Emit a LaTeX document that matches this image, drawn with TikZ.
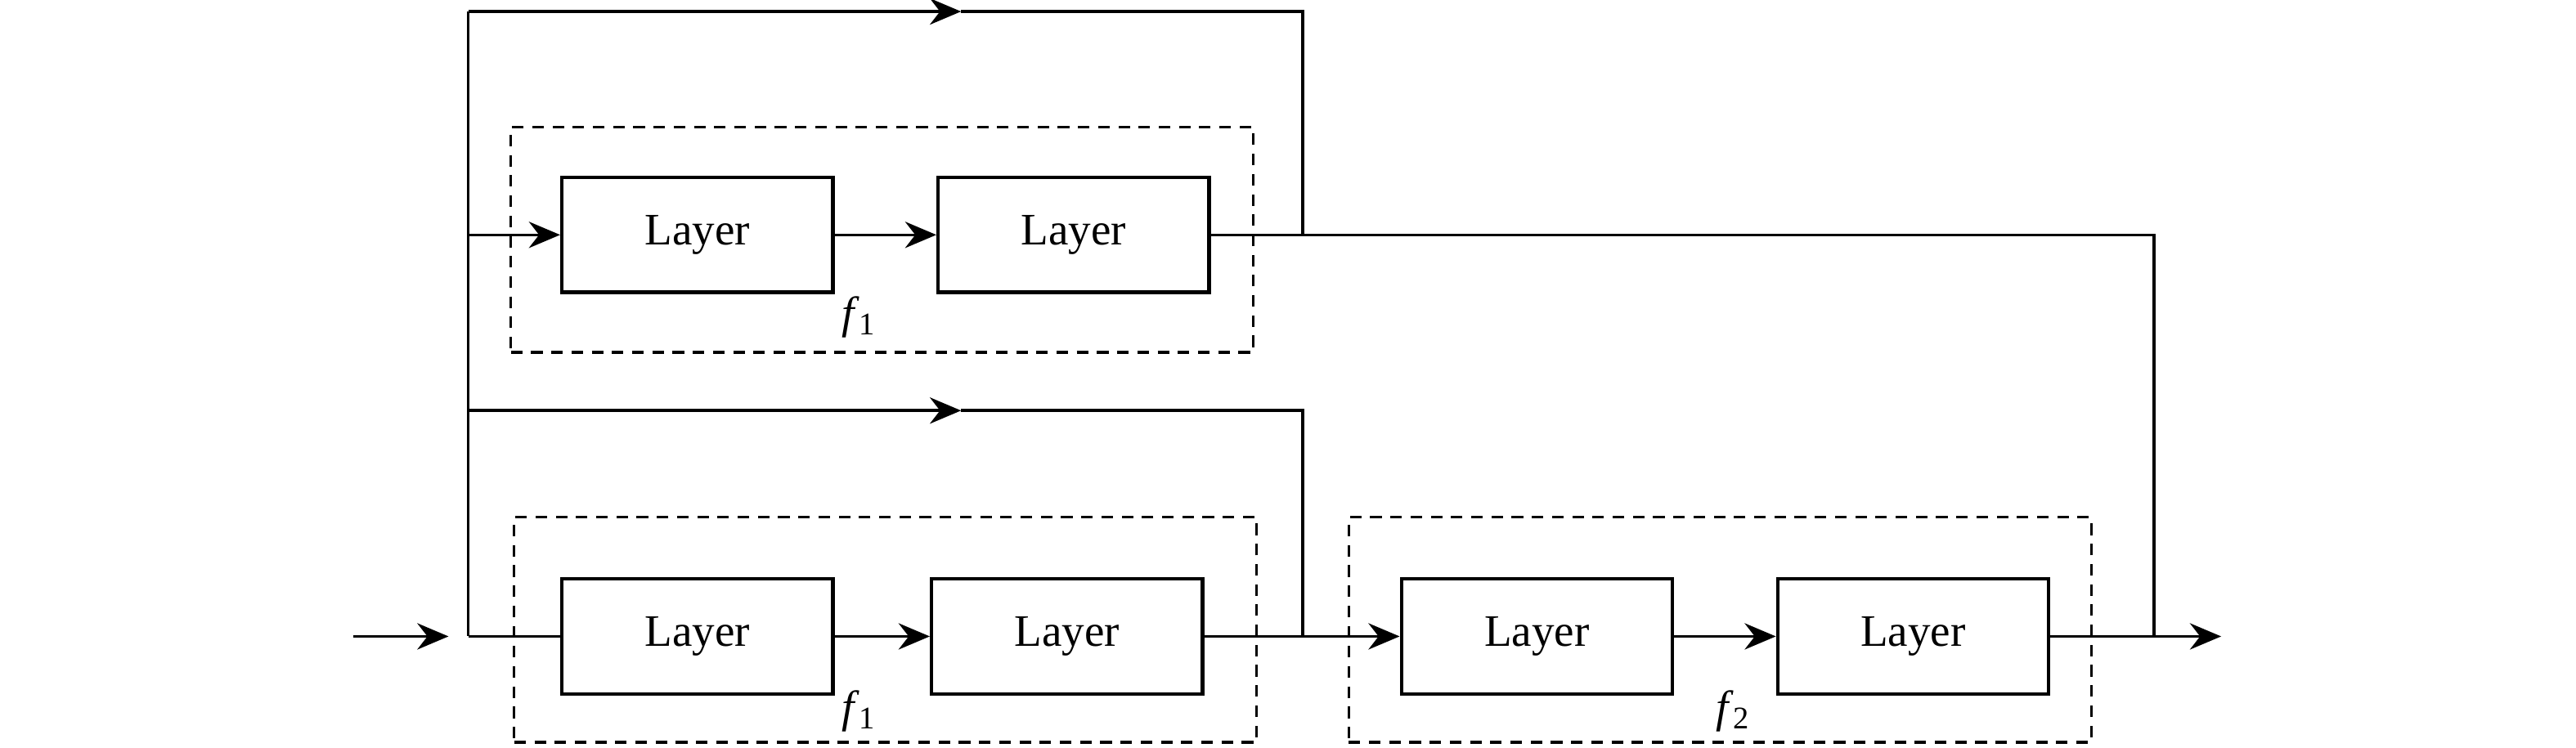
\documentclass[tikz,border=0pt]{standalone}
\usepackage{fontspec}
\setmainfont{Liberation Serif}
\usepackage{tikz}
\usetikzlibrary{arrows.meta}
\usetikzlibrary{positioning}

\tikzset{
  >={Stealth[length=3.8mm,width=3.2mm]},
  layer/.style={draw=black, line width=1.2pt, minimum width=3.3cm, minimum height=1.4cm, text centered, font=\fontsize{15.6}{18}\selectfont},
  block/.style={draw=black, line width=0.9pt, dash pattern=on 4pt off 3pt, minimum width=9.04cm, minimum height=2.74cm},
  flabel/.style={font=\fontsize{15.6}{18}\selectfont}
}

\begin{document}
\begin{tikzpicture}[x=0.2mm, y=-0.2mm, line width=1pt, node distance=4.58cm]
\useasboundingbox (0,0) rectangle (1568,455);

% dashed blocks
\node[block] (fa) at (537,146) {};
\node[block] (fb) at (539,383.5) {};
\node[block] (fc) at (1047,383.5) {};

% layers
\node[layer] (ua) at (424.5,143) {Layer};
\node[layer, right of=ua] (ub) {Layer};
\node[layer] (la) at (424.5,387.5) {Layer};
\node[layer, right of=la, xshift=-0.08cm] (lb) {Layer};
\node[layer] (ma) at (935.5,387.5) {Layer};
\node[layer, right of=ma] (mb) {Layer};

\node[flabel] (fal) at (523,193) {\textit{f}\textsubscript{1}};
\node[flabel] (fbl) at (523,433) {\textit{f}\textsubscript{1}};
\node[flabel] (fcl) at (1055,433) {\textit{f}\textsubscript{2}};

% junctions
\coordinate (in) at (215,387.5);
\coordinate (inend) at (273,387.5);
\coordinate (split) at (285,387.5);
\coordinate (topl) at (285,7);
\coordinate (topm) at (585,7);
\coordinate (topr) at (793,7);
\coordinate (upin) at (285,143);
\coordinate (upout) at (793,143);
\coordinate (midl) at (285,250);
\coordinate (midm) at (585,250);
\coordinate (midr) at (793,250);
\coordinate (midj) at (793,387.5);
\coordinate (far) at (1311,143);
\coordinate (outj) at (1311,387.5);
\coordinate (out) at (1352,387.5);

% input
\draw [->] (in) -- (inend);
\draw (split) -- (la.west);
\draw (split) -- (topl);

% top skip
\draw [->] (topl) -- (topm);
\draw (topm) -- (topr) -- (upout);

% upper branch
\draw [->] (upin) -- (ua.west);
\draw [->] (ua) -- (ub);
\draw (ub.east) -- (far) -- (outj);

% middle skip
\draw [->] (midl) -- (midm);
\draw (midm) -- (midr) -- (midj);

% lower branch
\draw [->] (la) -- (lb);
\draw [->] (lb) -- (ma);
\draw [->] (ma) -- (mb);
\draw [->] (mb) -- (out);

\end{tikzpicture}
\end{document}
